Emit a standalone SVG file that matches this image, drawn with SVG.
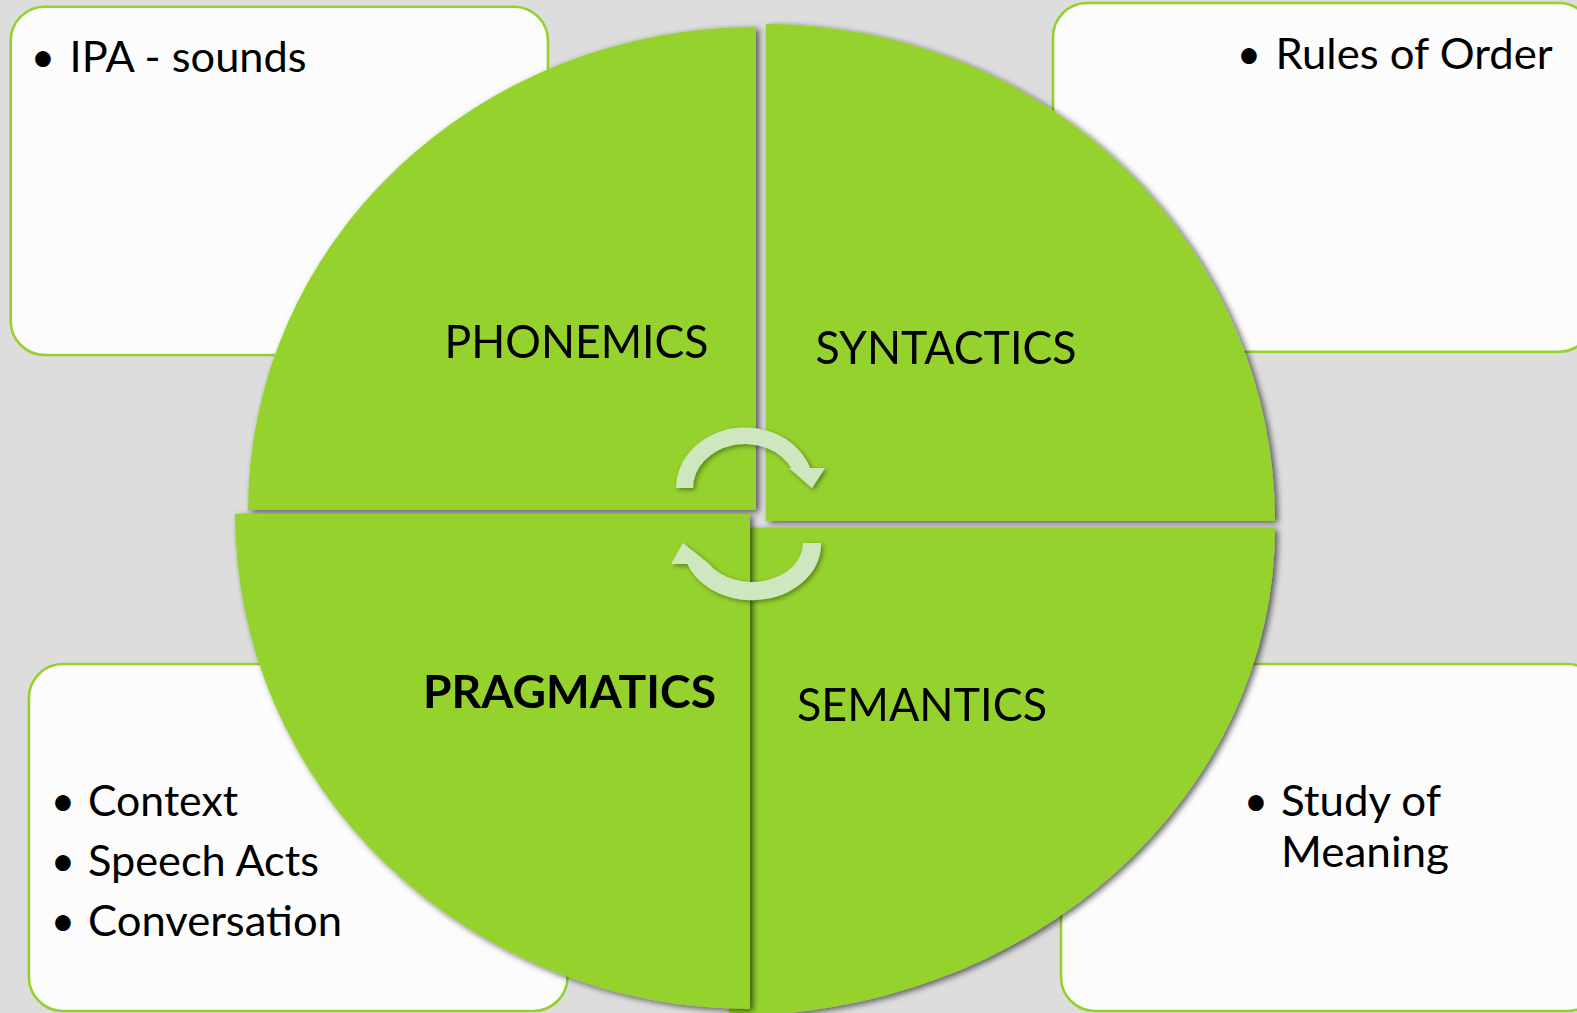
<svg xmlns="http://www.w3.org/2000/svg" width="1577" height="1013" viewBox="0 0 1577 1013">
<style>
.box{fill:#fcfcfc;stroke:#96d02e;stroke-width:2.6}
.quad{fill:#95d22f}
.arrow{fill:#cfe7be}
.t{font-family:Lato,"Open Sans","Liberation Sans",sans-serif;fill:#000}
.b{font-size:42px}
.lab{font-size:46px}
.bold{font-weight:bold}
</style>
<defs>
<filter id="sh" x="-10%" y="-10%" width="120%" height="120%">
<feDropShadow dx="3" dy="2" stdDeviation="3" flood-color="#000" flood-opacity="0.62"/>
</filter>
<filter id="sh2" x="-20%" y="-20%" width="140%" height="140%">
<feDropShadow dx="2" dy="2" stdDeviation="2.5" flood-color="#000" flood-opacity="0.4"/>
</filter>
</defs>
<rect width="1577" height="1013" fill="#dddddd"/>

<g id="box-ipa">
<rect class="box" x="10.7" y="6.7" width="537.3" height="348.3" rx="34" ry="34"/>
<text class="t b"><tspan x="43" y="72" text-anchor="middle">•</tspan><tspan x="69.6" y="72" textLength="237" lengthAdjust="spacingAndGlyphs">IPA - sounds</tspan></text>
</g>
<g id="box-rules">
<rect class="box" x="1053" y="3" width="540" height="348.7" rx="34" ry="34"/>
<text class="t b"><tspan x="1249" y="69" text-anchor="middle">•</tspan><tspan x="1275.6" y="69" textLength="277" lengthAdjust="spacingAndGlyphs">Rules of Order</tspan></text>
</g>
<g id="box-context">
<rect class="box" x="28.9" y="664" width="538.6" height="347" rx="34" ry="34"/>
<text class="t b"><tspan x="63" y="816" text-anchor="middle">•</tspan><tspan x="88" y="816" textLength="150" lengthAdjust="spacingAndGlyphs">Context</tspan></text>
<text class="t b"><tspan x="63" y="875.5" text-anchor="middle">•</tspan><tspan x="88" y="875.5" textLength="231" lengthAdjust="spacingAndGlyphs">Speech Acts</tspan></text>
<text class="t b"><tspan x="63" y="935.7" text-anchor="middle">•</tspan><tspan x="88" y="935.7" textLength="254" lengthAdjust="spacingAndGlyphs">Conversation</tspan></text>
</g>
<g id="box-meaning">
<rect class="box" x="1061" y="664" width="540" height="347" rx="34" ry="34"/>
<text class="t b"><tspan x="1256" y="816" text-anchor="middle">•</tspan><tspan x="1281" y="816" textLength="160" lengthAdjust="spacingAndGlyphs">Study of</tspan></text>
<text class="t b" x="1281" y="867" textLength="168" lengthAdjust="spacingAndGlyphs">Meaning</text>
</g>

<g id="syntactics" filter="url(#sh)">
<path class="quad" d="M766,521 L766,24 A509,497 0 0 1 1275,521 Z"/>
<text class="t lab" x="815.5" y="363.5" textLength="261" lengthAdjust="spacingAndGlyphs">SYNTACTICS</text>
</g>
<g id="phonemics" filter="url(#sh)">
<path class="quad" d="M756,510 L248,510 A508,483 0 0 1 756,27 Z"/>
<text class="t lab" x="444.5" y="358" textLength="264" lengthAdjust="spacingAndGlyphs">PHONEMICS</text>
</g>
<g id="semantics" filter="url(#sh)">
<path class="quad" d="M729,528 L1275,528 A546,488 0 0 1 729,1016 Z"/>
<text class="t lab" x="797" y="720.5" textLength="250" lengthAdjust="spacingAndGlyphs">SEMANTICS</text>
</g>
<g id="pragmatics" filter="url(#sh)">
<path class="quad" d="M750,514 L750,1009 A515,495 0 0 1 235,514 Z"/>
<text class="t lab bold" x="423" y="708" textLength="293" lengthAdjust="spacingAndGlyphs">PRAGMATICS</text>
</g>

<g id="connectors" filter="url(#sh2)">
<path class="arrow" d="M676,488 A69,61 0 0 1 810,468 L825,468 L812,488 L789,468 L791.3,468 A52,44 0 0 0 693,488 Z"/>
<path class="arrow" d="M821,543 A69,56 0 0 1 687.5,564 L671,564 L683,543 L709,564 A51,39 0 0 0 803,543 Z"/>
</g>
</svg>
